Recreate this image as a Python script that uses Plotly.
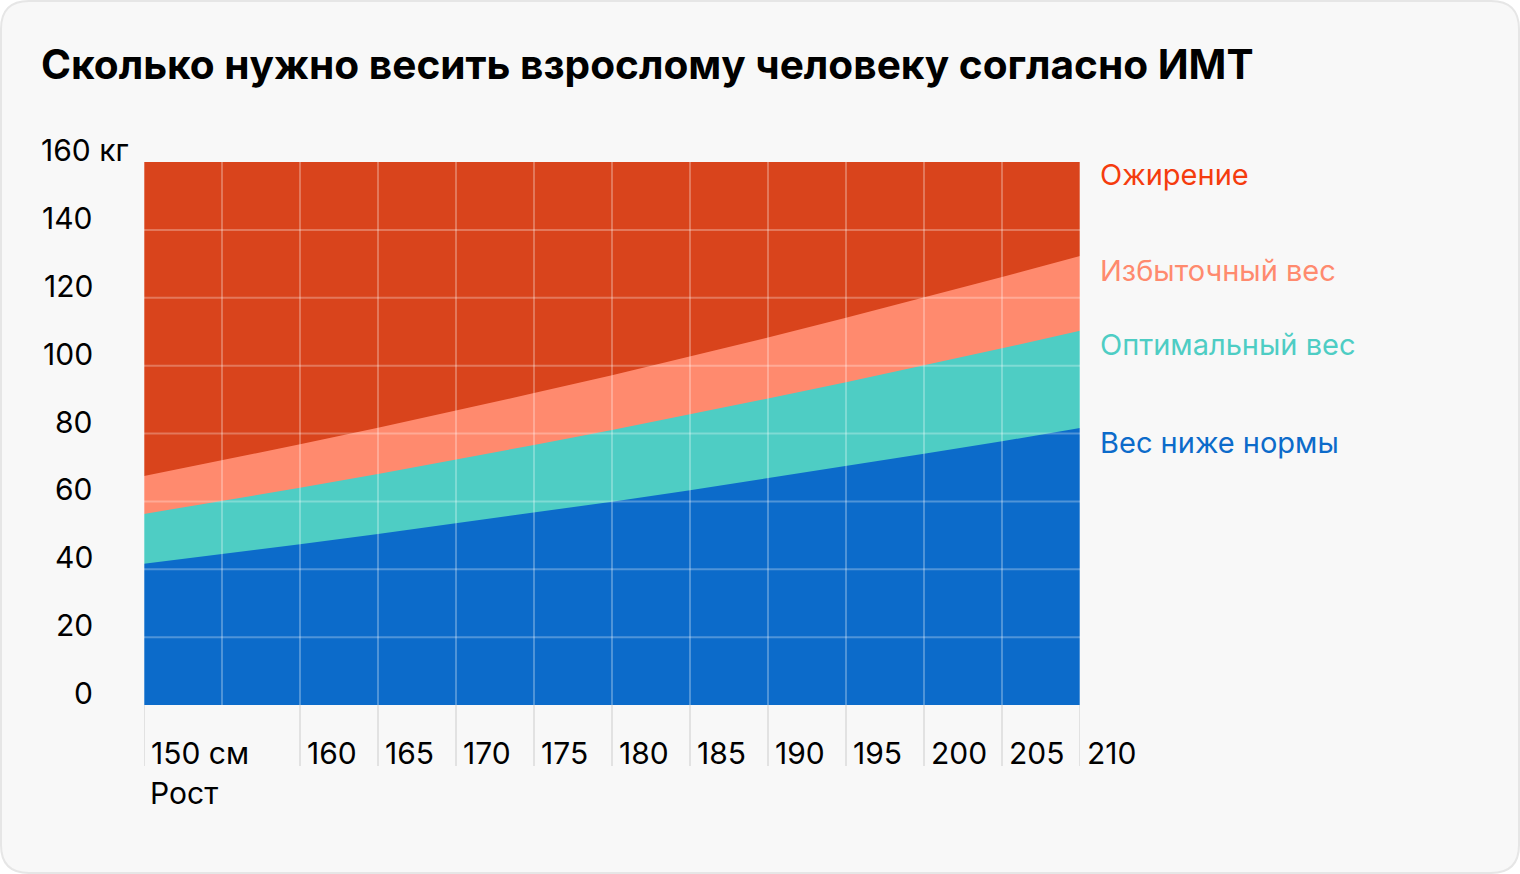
import plotly.graph_objects as go

# ---- data ----
heights = [150, 155, 160, 165, 170, 175, 180, 185, 190, 195, 200, 205, 210]
under_top = [41.6, 44.4, 47.4, 50.4, 53.5, 56.7, 59.9, 63.3, 66.8, 70.3, 74.0, 77.7, 81.6]
optimal_top = [56.3, 60.1, 64.0, 68.1, 72.3, 76.6, 81.0, 85.6, 90.3, 95.1, 100.0, 105.1, 110.3]
over_top = [67.5, 72.1, 76.8, 81.7, 86.7, 91.9, 97.2, 102.7, 108.3, 114.1, 120.0, 126.1, 132.3]
obesity_top = [160] * len(heights)

series_names = ["Ожирение", "Избыточный вес", "Оптимальный вес", "Вес ниже нормы"]
series_values = [obesity_top, over_top, optimal_top, under_top]
fill_colors = ["#D9441C", "#FF8A6E", "#4ECDC4", "#0C6BCA"]
label_colors = ["#F53C0E", "#FF8A6E", "#4ECDC4", "#0C6BCA"]

y_ticks = [0, 20, 40, 60, 80, 100, 120, 140, 160]
y_ticktext = ["0", "20", "40", "60", "80", "100", "120", "140", "160 кг"]
x_ticks = [150, 160, 165, 170, 175, 180, 185, 190, 195, 200, 205, 210]
x_ticktext = ["150 см", "160", "165", "170", "175", "180", "185", "190", "195", "200", "205", "210"]
x_grid = heights
y_grid = [20, 40, 60, 80, 100, 120, 140]

title = "Сколько нужно весить взрослому человеку согласно ИМТ"
x_title = "Рост"

W, H = 1520, 874
L, R, T, B = 144, 1080, 162, 705
FONT = "Inter"
TICK_SIZE = 30
LABEL_SIZE = 29


def px(x):
    return (x - L) / (R - L)


def py(y):
    return (B - y) / (B - T)


fig = go.Figure()
for name, vals, col in zip(series_names, series_values, fill_colors):
    fig.add_trace(go.Scatter(x=heights, y=vals, name=name, mode="lines",
                             line=dict(width=0, color=col), fill="tozeroy",
                             fillcolor=col, hoverinfo="skip"))

shapes = []
# card
x0, y0, x1, y1, r = 1, 1, 1519, 873, 28
path = (f"M {px(x0 + r)},{py(y0)} L {px(x1 - r)},{py(y0)} Q {px(x1)},{py(y0)} {px(x1)},{py(y0 + r)} "
        f"L {px(x1)},{py(y1 - r)} Q {px(x1)},{py(y1)} {px(x1 - r)},{py(y1)} "
        f"L {px(x0 + r)},{py(y1)} Q {px(x0)},{py(y1)} {px(x0)},{py(y1 - r)} "
        f"L {px(x0)},{py(y0 + r)} Q {px(x0)},{py(y0)} {px(x0 + r)},{py(y0)} Z")
shapes.append(dict(type="path", xref="paper", yref="paper", path=path,
                   fillcolor="#F8F8F8", line=dict(color="#E6E6E6", width=2), layer="below"))
# tick lines below the plot
for xv in x_ticks:
    shapes.append(dict(type="line", xref="x", yref="paper", x0=xv, x1=xv, y0=0, y1=-61 / (B - T),
                       line=dict(color="#E2E2E2", width=2), layer="below"))
# grid lines above fills
for xv in x_grid:
    shapes.append(dict(type="line", xref="x", yref="y", x0=xv, x1=xv, y0=0, y1=160,
                       line=dict(color="rgba(255,255,255,0.28)", width=2), layer="above"))
for yv in y_grid:
    shapes.append(dict(type="line", xref="x", yref="y", x0=150, x1=210, y0=yv, y1=yv,
                       line=dict(color="rgba(255,255,255,0.28)", width=2), layer="above"))

annotations = []
annotations.append(dict(text=f"<b>{title}</b>", xref="paper", yref="paper", x=px(39), y=py(64),
                        xanchor="left", yanchor="middle", showarrow=False,
                        font=dict(family=FONT, size=40.6, color="#000000")))
# y labels
for yv, txt in zip(y_ticks, y_ticktext):
    if txt.endswith("кг"):
        annotations.append(dict(text=txt, xref="paper", yref="y", x=px(39), y=yv, yshift=12,
                                xanchor="left", yanchor="middle", showarrow=False,
                                font=dict(family=FONT, size=TICK_SIZE, color="#000000")))
    else:
        annotations.append(dict(text=txt, xref="paper", yref="y", x=px(95), y=yv, yshift=12,
                                xanchor="right", yanchor="middle", showarrow=False,
                                font=dict(family=FONT, size=TICK_SIZE, color="#000000")))
# x labels
for xv, txt in zip(x_ticks, x_ticktext):
    annotations.append(dict(text=txt, xref="x", yref="paper", x=xv, xshift=5, y=py(753),
                            xanchor="left", yanchor="middle", showarrow=False,
                            font=dict(family=FONT, size=TICK_SIZE, color="#000000")))
annotations.append(dict(text=x_title, xref="paper", yref="paper", x=px(148), y=py(793),
                        xanchor="left", yanchor="middle", showarrow=False,
                        font=dict(family=FONT, size=TICK_SIZE, color="#000000")))
# series labels
label_y = [174, 270, 344, 442]
for name, col, ly in zip(series_names, label_colors, label_y):
    annotations.append(dict(text=name, xref="paper", yref="paper", x=px(1098), y=py(ly),
                            xanchor="left", yanchor="middle", showarrow=False,
                            font=dict(family=FONT, size=LABEL_SIZE, color=col)))

fig.update_layout(
    width=W, height=H,
    margin=dict(l=L, r=W - R, t=T, b=H - B),
    paper_bgcolor="#FFFFFF", plot_bgcolor="rgba(0,0,0,0)",
    showlegend=False,
    xaxis=dict(range=[150, 210], showgrid=False, zeroline=False, showticklabels=False,
               ticks="", fixedrange=True),
    yaxis=dict(range=[0, 160], showgrid=False, zeroline=False, showticklabels=False,
               ticks="", fixedrange=True),
    shapes=shapes, annotations=annotations,
)

fig.write_html("out.html", config={"displayModeBar": False})
